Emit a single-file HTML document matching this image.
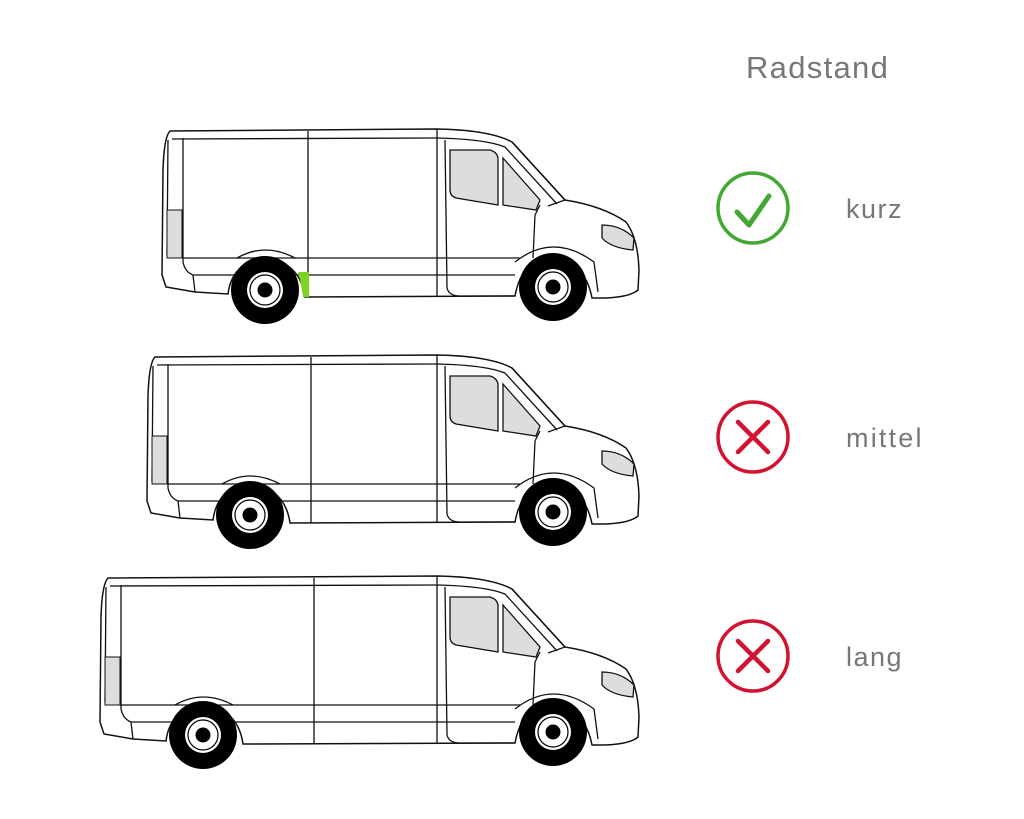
<!DOCTYPE html>
<html><head><meta charset="utf-8"><style>
html,body{margin:0;padding:0;background:#fff;width:1024px;height:819px;overflow:hidden}
svg{display:block}
text{font-family:"Liberation Sans","DejaVu Sans",sans-serif;fill:#777}
</style></head><body>
<svg width="1024" height="819" viewBox="0 0 1024 819" xmlns="http://www.w3.org/2000/svg">
<defs>
<g id="wheel">
<circle r="34" fill="#000"/>
<circle r="18" fill="#fff"/>
<circle r="15" fill="none" stroke="#000" stroke-width="1.2"/>
<circle r="7.5" fill="#000"/>
</g>
<g id="front" fill="none" stroke="#111" stroke-width="1.3">
<line x1="437" y1="129" x2="437" y2="297"/>
<path d="M445,140 L447,288 Q449,296 460,296 L515,296"/>
<path d="M437,138 Q485,139 505,147 L557,204"/>
<path d="M450,150 L490,150 Q497,152 498,158 L498,205 L456,198 Q450,196 450,190 Z" fill="#ddd"/>
<path d="M503,158 L540,200 L536,210 L503,205 Z" fill="#ddd"/>
<path d="M512,142 L565,200 L548,206"/>
<path d="M540,205 L535,215 L533,258"/>
<path d="M602,225 Q621,225 634,238 L633,250 Q611,248 602,238 Z" fill="#ddd"/>
<path d="M515,262 Q553,232 594,262 L598,292"/>
</g>
</defs>

<text x="746" y="78" font-size="31" letter-spacing="1.3">Radstand</text>
<text x="846" y="218" font-size="27" letter-spacing="1.5">kurz</text>
<text x="846" y="447" font-size="27" letter-spacing="2.2">mittel</text>
<text x="846" y="666" font-size="27" letter-spacing="1.5">lang</text>

<circle cx="753" cy="208" r="35" fill="none" stroke="#43a833" stroke-width="3.5"/>
<path d="M737,212 L749,225 L769,196" fill="none" stroke="#43a833" stroke-width="5" stroke-linecap="round" stroke-linejoin="round"/>
<g stroke="#d4122f" fill="none" stroke-linecap="round">
<circle cx="753" cy="437" r="35" stroke-width="3.5"/>
<path d="M738,422 L768,452 M768,422 L738,452" stroke-width="4.5"/>
<circle cx="753" cy="656" r="35" stroke-width="3.5"/>
<path d="M738,641 L768,671 M768,641 L738,671" stroke-width="4.5"/>
</g>

<!-- van 1 s=0 -->
<g transform="translate(0,0)">
<path d="M170,131 L437,129 Q490,130 512,142 L565,200 Q603,206 626,222 Q638,238 639,270 L638,290 Q630,297 605,298 L592,298 Q585,262 553,257 Q522,258 515,296 L305,297 Q300,262 265,258 Q232,262 228,294 L195,292 L166,287 L162,275 L163,170 Q164,137 170,131 Z" fill="#fff" stroke="#111" stroke-width="1.5"/>
<g fill="none" stroke="#111" stroke-width="1.3">
<path d="M172,139 L437,138"/>
<path d="M183,138 L183,262 Q185,272 193,275"/>
<path d="M168,140 L167,255"/>
<line x1="308" y1="131" x2="308" y2="297"/>
<path d="M183,258 L520,258"/>
<path d="M193,275 L515,275"/>
<path d="M237,258 Q265,242 295,258"/>
<path d="M193,275 L195,292"/>
</g>
<rect x="167" y="210" width="15" height="48" fill="#ddd" stroke="#111" stroke-width="1"/>
<path d="M298,272 L309,272 L309,297 L303,297 Q301,282 298,272 Z" fill="#7ed321"/>
<use href="#front"/>
<use href="#wheel" x="265" y="290"/>
<use href="#wheel" x="553" y="287"/>
</g>

<!-- van 2 s=-15 -->
<g transform="translate(0,226)">
<path d="M155,131 L437,129 Q490,130 512,142 L565,200 Q603,206 626,222 Q638,238 639,270 L638,290 Q630,297 605,298 L592,298 Q585,262 553,257 Q522,258 515,296 L290,297 Q285,262 250,258 Q217,262 213,294 L180,292 L151,287 L147,275 L148,170 Q149,137 155,131 Z" fill="#fff" stroke="#111" stroke-width="1.5"/>
<g fill="none" stroke="#111" stroke-width="1.3">
<path d="M157,139 L437,138"/>
<path d="M168,138 L168,262 Q170,272 178,275"/>
<path d="M153,140 L152,255"/>
<line x1="311" y1="131" x2="311" y2="297"/>
<path d="M168,258 L520,258"/>
<path d="M178,275 L515,275"/>
<path d="M222,258 Q250,242 280,258"/>
<path d="M178,275 L180,292"/>
</g>
<rect x="152" y="210" width="15" height="48" fill="#ddd" stroke="#111" stroke-width="1"/>
<use href="#front"/>
<use href="#wheel" x="250" y="289"/>
<use href="#wheel" x="553" y="286"/>
</g>

<!-- van 3 s=-62 -->
<g transform="translate(0,447)">
<path d="M108,131 L437,129 Q490,130 512,142 L565,200 Q603,206 626,222 Q638,238 639,270 L638,290 Q630,297 605,298 L592,298 Q585,262 553,257 Q522,258 515,296 L243,297 Q238,262 203,258 Q170,262 166,294 L133,292 L104,287 L100,275 L101,170 Q102,137 108,131 Z" fill="#fff" stroke="#111" stroke-width="1.5"/>
<g fill="none" stroke="#111" stroke-width="1.3">
<path d="M110,139 L437,138"/>
<path d="M121,138 L121,262 Q123,272 131,275"/>
<path d="M106,140 L105,255"/>
<line x1="314" y1="131" x2="314" y2="297"/>
<path d="M121,258 L520,258"/>
<path d="M131,275 L515,275"/>
<path d="M175,258 Q203,242 233,258"/>
<path d="M131,275 L133,292"/>
</g>
<rect x="105" y="210" width="15" height="48" fill="#ddd" stroke="#111" stroke-width="1"/>
<use href="#front"/>
<use href="#wheel" x="203" y="288"/>
<use href="#wheel" x="553" y="285"/>
</g>
</svg>
</body></html>
